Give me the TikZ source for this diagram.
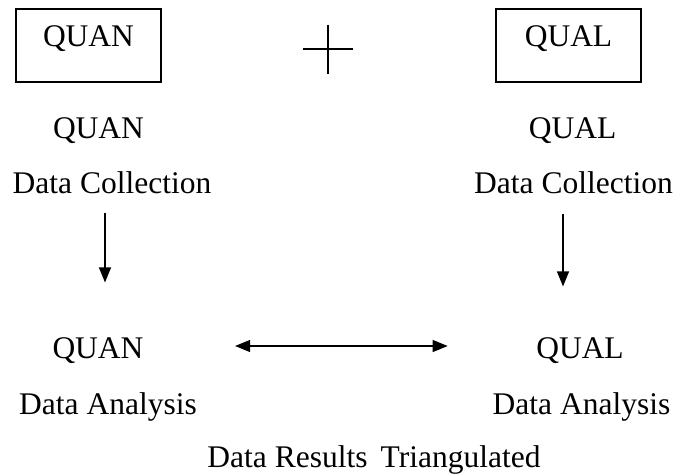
\documentclass[tikz,border=0pt]{standalone}
\usepackage{fontspec}
\setmainfont{Liberation Serif}
\usetikzlibrary{arrows.meta}

\begin{document}
\begin{tikzpicture}[x=1pt, y=-1pt, line width=1.2pt, >={Triangle[length=15pt, width=12pt]},
  txt/.style={inner sep=0pt, font=\fontsize{31.5}{36}\selectfont, text height=22pt, text depth=7pt},
  strand/.style={txt, draw, minimum width=145pt, text height=37pt, text depth=36pt}]

  \useasboundingbox (0,0) rectangle (679,475);

  \node[strand] (quanbox) at (88.5,45.5) {QUAN};
  \node[strand] (qualbox) at (568.5,45.5) {QUAL};
  \coordinate (plus) at (328,49);

  \node[txt] (quancol) at (98.5,130.5) {QUAN};
  \node[txt] (quancoltxt) at (112,185.5) {Data Collection};
  \node[txt] (qualcol) at (572.6,130.5) {QUAL};
  \node[txt] (qualcoltxt) at (573.5,185.5) {Data Collection};

  \node[txt] (quanana) at (98,350.5) {QUAN};
  \node[txt] (quananatxt) at (108,406.5) {Data Analysis};
  \node[txt] (qualana) at (580,350.5) {QUAL};
  \node[txt] (qualanatxt) at (581.5,406.5) {Data Analysis};

  \node[txt] (result) at (374,459.5) {Data Results\, Triangulated};

  \draw (plus) ++(-25,0) -- ++(50,0);
  \draw (plus) ++(0,-24.5) -- ++(0,49);

  \draw[->] ([xshift=-7pt, yshift=-12pt]quancoltxt.south) -- ([xshift=7pt, yshift=53pt]quanana.north);
  \draw[->] ([xshift=-10.5pt, yshift=-13pt]qualcoltxt.south) -- ([xshift=-17pt, yshift=49pt]qualana.north);
  \draw[<->] ([xshift=91pt, yshift=4.5pt]quanana.east) -- ([xshift=-88pt, yshift=4.5pt]qualana.west);
\end{tikzpicture}
\end{document}
